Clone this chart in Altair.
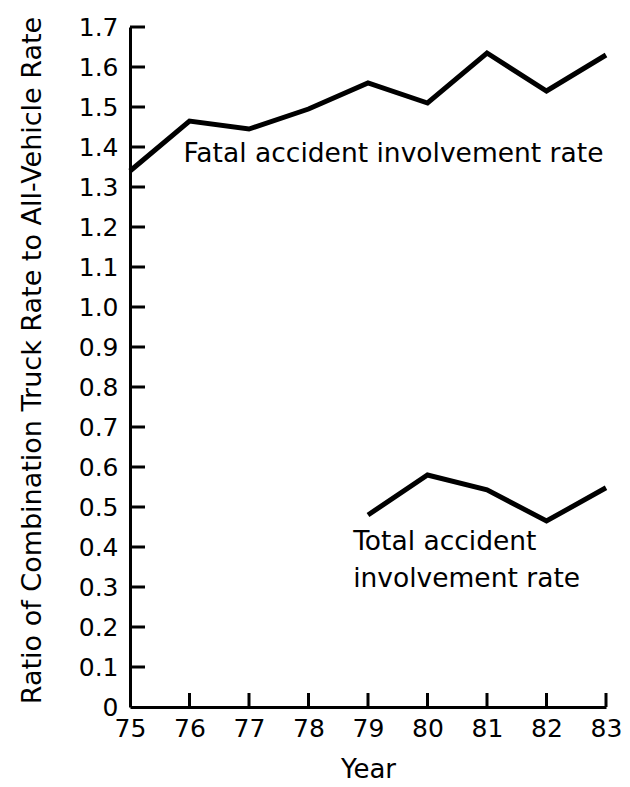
import altair as alt
import pandas as pd

years = [75, 76, 77, 78, 79, 80, 81, 82, 83]
fatal = [1.34, 1.465, 1.445, 1.495, 1.56, 1.51, 1.635, 1.54, 1.63]
total_years = [79, 80, 81, 82, 83]
total = [0.48, 0.58, 0.543, 0.465, 0.548]

y_ticks = [round(i * 0.1, 1) for i in range(18)]

label_text = ["Fatal accident involvement rate", "Total accident", "involvement rate"]
label_x = [75.9, 78.75, 78.75]
label_y = [1.362, 0.392, 0.30]

FONT = "DejaVu Sans"

lines = pd.DataFrame(
    {"year": years + total_years,
     "ratio": fatal + total,
     "series": ["Fatal"] * len(years) + ["Total"] * len(total_years)}
)
labels = pd.DataFrame({"text": label_text, "year": label_x, "ratio": label_y})
yt = pd.DataFrame({"ratio": y_ticks[1:]})
xt = pd.DataFrame({"year": years[1:]})

xscale = alt.Scale(domain=[75, 83], nice=False, zero=False)
yscale = alt.Scale(domain=[0, 1.7], nice=False)

label_expr = "datum.value == 0 ? '0' : format(datum.value, '.1f')"

x_axis = alt.Axis(values=years, format="d", title="Year", ticks=False,
                  labelPadding=9, titlePadding=15, domainWidth=3,
                  labelFontSize=25, titleFontSize=26, labelFont=FONT, titleFont=FONT,
                  labelColor="black", titleColor="black", domainColor="black",
                  grid=False, labelFlush=False, labelOverlap=False,
                  titleFontWeight="normal")
y_axis = alt.Axis(values=y_ticks, labelExpr=label_expr,
                  title="Ratio of Combination Truck Rate to All-Vehicle Rate",
                  ticks=False, labelPadding=12, domainWidth=3,
                  titleX=-90, titleY=333, titleBaseline="alphabetic", titleAngle=270,
                  labelFontSize=25, titleFontSize=27, labelFont=FONT, titleFont=FONT,
                  labelColor="black", titleColor="black", domainColor="black",
                  grid=False, labelFlush=False, labelOverlap=False,
                  titleFontWeight="normal")


def X():
    return alt.X("year:Q", scale=xscale, axis=x_axis)


def Y():
    return alt.Y("ratio:Q", scale=yscale, axis=y_axis)


line = alt.Chart(lines).mark_line(color="black", strokeWidth=5, strokeJoin="miter").encode(
    x=X(), y=Y(), detail="series:N")

ytick = alt.Chart(yt).mark_rule(color="black", strokeWidth=3).encode(
    y=Y(), x=alt.value(0), x2=alt.value(15))
xtick = alt.Chart(xt).mark_rule(color="black", strokeWidth=3).encode(
    x=X(), y=alt.value(680), y2=alt.value(666))

text = alt.Chart(labels).mark_text(
    align="left", baseline="alphabetic", font=FONT, fontSize=26.5, color="black").encode(
    x=X(), y=Y(), text="text:N")

chart = alt.layer(line, ytick, xtick, text).properties(
    width=476, height=680,
    background="white",
    autosize=alt.AutoSizeParams(type="none"),
    padding={"left": 122, "top": 19, "right": 16, "bottom": 79},
).configure_view(stroke=None)

chart.save("out.html", embed_options={"renderer": "svg", "actions": False})
